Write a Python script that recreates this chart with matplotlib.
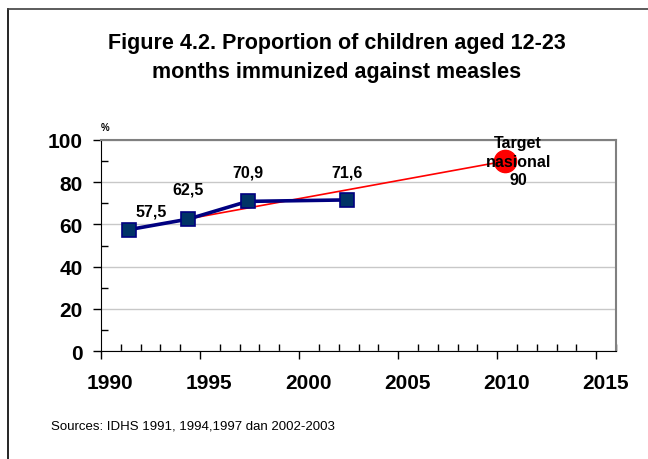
import matplotlib
matplotlib.use("Agg")
import matplotlib.pyplot as plt
from matplotlib.lines import Line2D
from matplotlib.ticker import MultipleLocator
from matplotlib.transforms import ScaledTranslation

plt.rcParams["font.family"] = ["Liberation Sans", "DejaVu Sans"]

years = [1991.4, 1994.4, 1997.4, 2002.4]
coverage = [57.5, 62.5, 70.9, 71.6]
labels = ["57,5", "62,5", "70,9", "71,6"]
target_year = 2010.4
target_value = 90
target_label = "Target\nnasional\n90"
x_ticks = [1990, 1995, 2000, 2005, 2010, 2015]
y_ticks = [0, 20, 40, 60, 80, 100]

fig = plt.figure(figsize=(6.48, 4.60), dpi=100)
ax = fig.add_axes([101 / 648, 1 - 352 / 460, 515 / 648, 211 / 460])

# trend line from first survey to national target
ax.plot([years[0], target_year], [coverage[0], target_value], color="red", lw=1.2, zorder=3)
ax.plot(years, coverage, color="#000080", lw=2.6, marker="s", markersize=10,
        markerfacecolor="#003366", markeredgecolor="#000080", markeredgewidth=1.2, zorder=4)
ax.plot([target_year], [target_value], "o", color="red", markersize=16, zorder=5)

offsets = [(22, 19), (0, 30), (0, 29), (0, 28)]
for x, y, t, off in zip(years, coverage, labels, offsets):
    ax.annotate(t, (x, y), xytext=off, textcoords="offset pixels",
                ha="center", va="center", fontsize=11.5, fontweight="bold", zorder=6)

ax.annotate(target_label, (target_year, target_value), xytext=(13, 0),
            textcoords="offset pixels", ha="center", va="center",
            fontsize=11.5, fontweight="bold", linespacing=1.3, zorder=6)

ax.set_xlim(1990, 2016)
ax.set_ylim(0, 100)
ax.set_xticks(x_ticks)
ax.set_yticks(y_ticks)
ax.xaxis.set_minor_locator(MultipleLocator(1))
ax.yaxis.set_minor_locator(MultipleLocator(10))
ax.tick_params(axis="both", which="major", direction="out", length=6, width=1,
               labelsize=15)
ax.tick_params(axis="x", which="major", pad=10)
ax.tick_params(axis="y", which="major", pad=7)
ax.tick_params(axis="both", which="minor", direction="in", length=5, width=1)
for lab in ax.get_xticklabels() + ax.get_yticklabels():
    lab.set_fontweight("bold")
shift = ScaledTranslation(9 / 100, 0, fig.dpi_scale_trans)
for lab in ax.get_xticklabels():
    lab.set_transform(lab.get_transform() + shift)

ax.yaxis.grid(True, color="#c8c8c8", lw=1)
ax.set_axisbelow(True)
ax.spines["left"].set_color("black")
ax.spines["bottom"].set_color("black")
ax.spines["top"].set_color("#808080")
ax.spines["right"].set_color("#808080")
ax.spines["top"].set_linewidth(1.5)
ax.spines["right"].set_linewidth(1.5)

fig.text(105 / 648, 1 - 128 / 460, "%", fontsize=7, fontweight="bold", ha="center", va="center")
fig.text(337 / 648, 1 - 58 / 460,
         "Figure 4.2. Proportion of children aged 12-23\nmonths immunized against measles",
         ha="center", va="center", fontsize=15.5, fontweight="bold", linespacing=1.5)
fig.text(51 / 648, 1 - 427 / 460, "Sources: IDHS 1991, 1994,1997 dan 2002-2003",
         ha="left", va="center", fontsize=9.5)

# outer frame (only top and left edges visible)
fig.add_artist(Line2D([8 / 648, 8 / 648], [0, 1 - 10 / 460], color="black", lw=1.2))
fig.add_artist(Line2D([8 / 648, 1], [1 - 10 / 460, 1 - 10 / 460], color="#404040", lw=1.2))

fig.savefig("out.png", dpi=100)
